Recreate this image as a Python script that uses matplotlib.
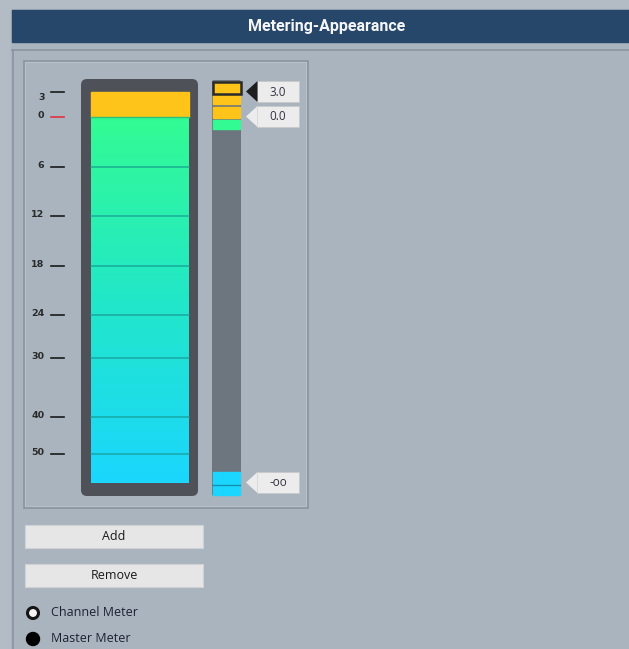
import numpy as np
import matplotlib
matplotlib.use("Agg")
import matplotlib.pyplot as plt
from matplotlib.patches import Rectangle, FancyBboxPatch, Polygon, Circle
from matplotlib.colors import LinearSegmentedColormap

# ---- data ----
title = "Metering-Appearance"
scale_labels = ["3", "0", "6", "12", "18", "24", "30", "40", "50"]
scale_levels = [92, 117, 167, 216, 266, 315, 358, 417, 454]   # meter level rows
marker_labels = ["3.0", "0.0", "-oo"]
marker_levels = [91.5, 116.5, 482.5]
buttons = ["Add", "Remove"]
radio_labels = ["Channel Meter", "Master Meter"]
radio_selected = [False, True]

W, H = 629, 649
fig = plt.figure(figsize=(W / 100, H / 100), dpi=100)
ax = fig.add_axes([0, 0, 1, 1])
ax.set_xlim(0, W)
ax.set_ylim(H, 0)
ax.axis("off")

BG = "#a9b4bf"
fig.patch.set_facecolor("#b3bbc4")
ax.add_patch(Rectangle((11, 9), W - 11, H - 9, color=BG, zorder=0))

# title bar
ax.add_patch(Rectangle((12, 10), W - 12, 32, color="#27476a", zorder=1))
ax.text(327, 27, title, ha="center", va="center", color="#f4f6f8",
        fontsize=11.5, fontweight="bold", family="Roboto", zorder=2)

# frame lines
ax.plot([12, W], [50, 50], color="#8b959f", lw=1.2, zorder=1)
ax.plot([12.5, 12.5], [50, H], color="#8b959f", lw=1.2, zorder=1)
ax.add_patch(Rectangle((23.5, 60.5), 284, 447, fill=False, ec="#8a949e", lw=1.2, zorder=1))
ax.add_patch(Rectangle((25, 62), 281, 444, fill=False, ec="#b6c0ca", lw=0.8, zorder=1))

# dark meter frame
ax.add_patch(FancyBboxPatch((81, 79), 117, 417, boxstyle="round,pad=0,rounding_size=6",
                            fc="#4e5258", ec="none", zorder=2))
# yellow band
ax.add_patch(Rectangle((91, scale_levels[0]), 98, scale_levels[1] - scale_levels[0],
                       color="#fec41a", zorder=3))
# gradient body
cmap = LinearSegmentedColormap.from_list("meter", ["#33fb93", "#22e7c8", "#1bd6fe"])
grad = np.linspace(0, 1, 256).reshape(-1, 1)
ax.imshow(grad, cmap=cmap, aspect="auto", extent=[91, 189, 483, scale_levels[1]],
          zorder=3, interpolation="bilinear")
ax.set_xlim(0, W)
ax.set_ylim(H, 0)
ax.plot([91, 189], [scale_levels[1], scale_levels[1]], color="#2fbf7a", lw=1, zorder=4)
for y in scale_levels[2:]:
    ax.plot([91, 189], [y, y], color="#17958f", lw=1.1, alpha=0.75, zorder=4)

# scale ticks + labels
for lab, y in zip(scale_labels, scale_levels):
    col = "#e0323c" if lab == "0" else "#1a1a1a"
    ax.plot([51, 64], [y, y], color=col, lw=1.2, zorder=3)
    dy = 5 if lab == "3" else -1.5
    ax.text(44.5, y + dy, lab, ha="right", va="center", fontsize=6.8,
            fontweight="bold", color="#2a2a2a", family="DejaVu Sans", zorder=3)

# narrow meter
ax.add_patch(FancyBboxPatch((212, 80), 29, 416, boxstyle="round,pad=0,rounding_size=2",
                            fc="#6d767f", ec="none", zorder=2))
segs = [(82, 93, "#fec41a"), (95, 104, "#fec41a"), (107, 118, "#fec41a"),
        (120, 129, "#33fb93"), (472, 484, "#1bd6fe"), (485.5, 495, "#1bd6fe")]
for y0, y1, c in segs:
    ax.add_patch(Rectangle((213, y0), 27, y1 - y0, color=c, zorder=3))
ax.add_patch(Rectangle((212.5, 81.5), 28, 12, fill=False, ec="#2a2a2a", lw=1.8, zorder=4))
ax.plot([213, 240], [484.7, 484.7], color="#1590b0", lw=1, zorder=4)

# marker flags
for i, (lab, y) in enumerate(zip(marker_labels, marker_levels)):
    h = 21
    box_c = "#ececec"
    ax.add_patch(Rectangle((257, y - h / 2), 42, h, fc=box_c, ec="#c8c8c8", lw=0.6, zorder=3))
    tri_c = "#1e1e1e" if i == 0 else box_c
    ax.add_patch(Polygon([(246, y), (257.5, y - h / 2), (257.5, y + h / 2)],
                         closed=True, fc=tri_c, ec="none", zorder=4))
    ax.text(278, y + 0.5, lab, ha="center", va="center", fontsize=8.5,
            color="#333344", family="Open Sans", zorder=5)

# buttons
for lab, y in zip(buttons, [525, 564]):
    ax.add_patch(Rectangle((25, y), 178, 22.5, fc="#e6e6e6", ec="#cfd3d7", lw=0.8, zorder=3))
    ax.text(114, y + 11.5, lab, ha="center", va="center", fontsize=9,
            color="#1a1a1a", family="Open Sans", zorder=4)

# radio buttons
for lab, sel, y in zip(radio_labels, radio_selected, [613, 639]):
    if sel:
        ax.add_patch(Circle((33, y), 6.5, fc="black", ec="black", zorder=3))
    else:
        ax.add_patch(Circle((33, y), 5.5, fc="#f4f4f4", ec="#151515", lw=2.2, zorder=3))
    ax.text(51, y, lab, ha="left", va="center", fontsize=9, color="#1e2030",
            family="Open Sans", zorder=4)

fig.savefig("out.png", dpi=100, facecolor=fig.get_facecolor())
